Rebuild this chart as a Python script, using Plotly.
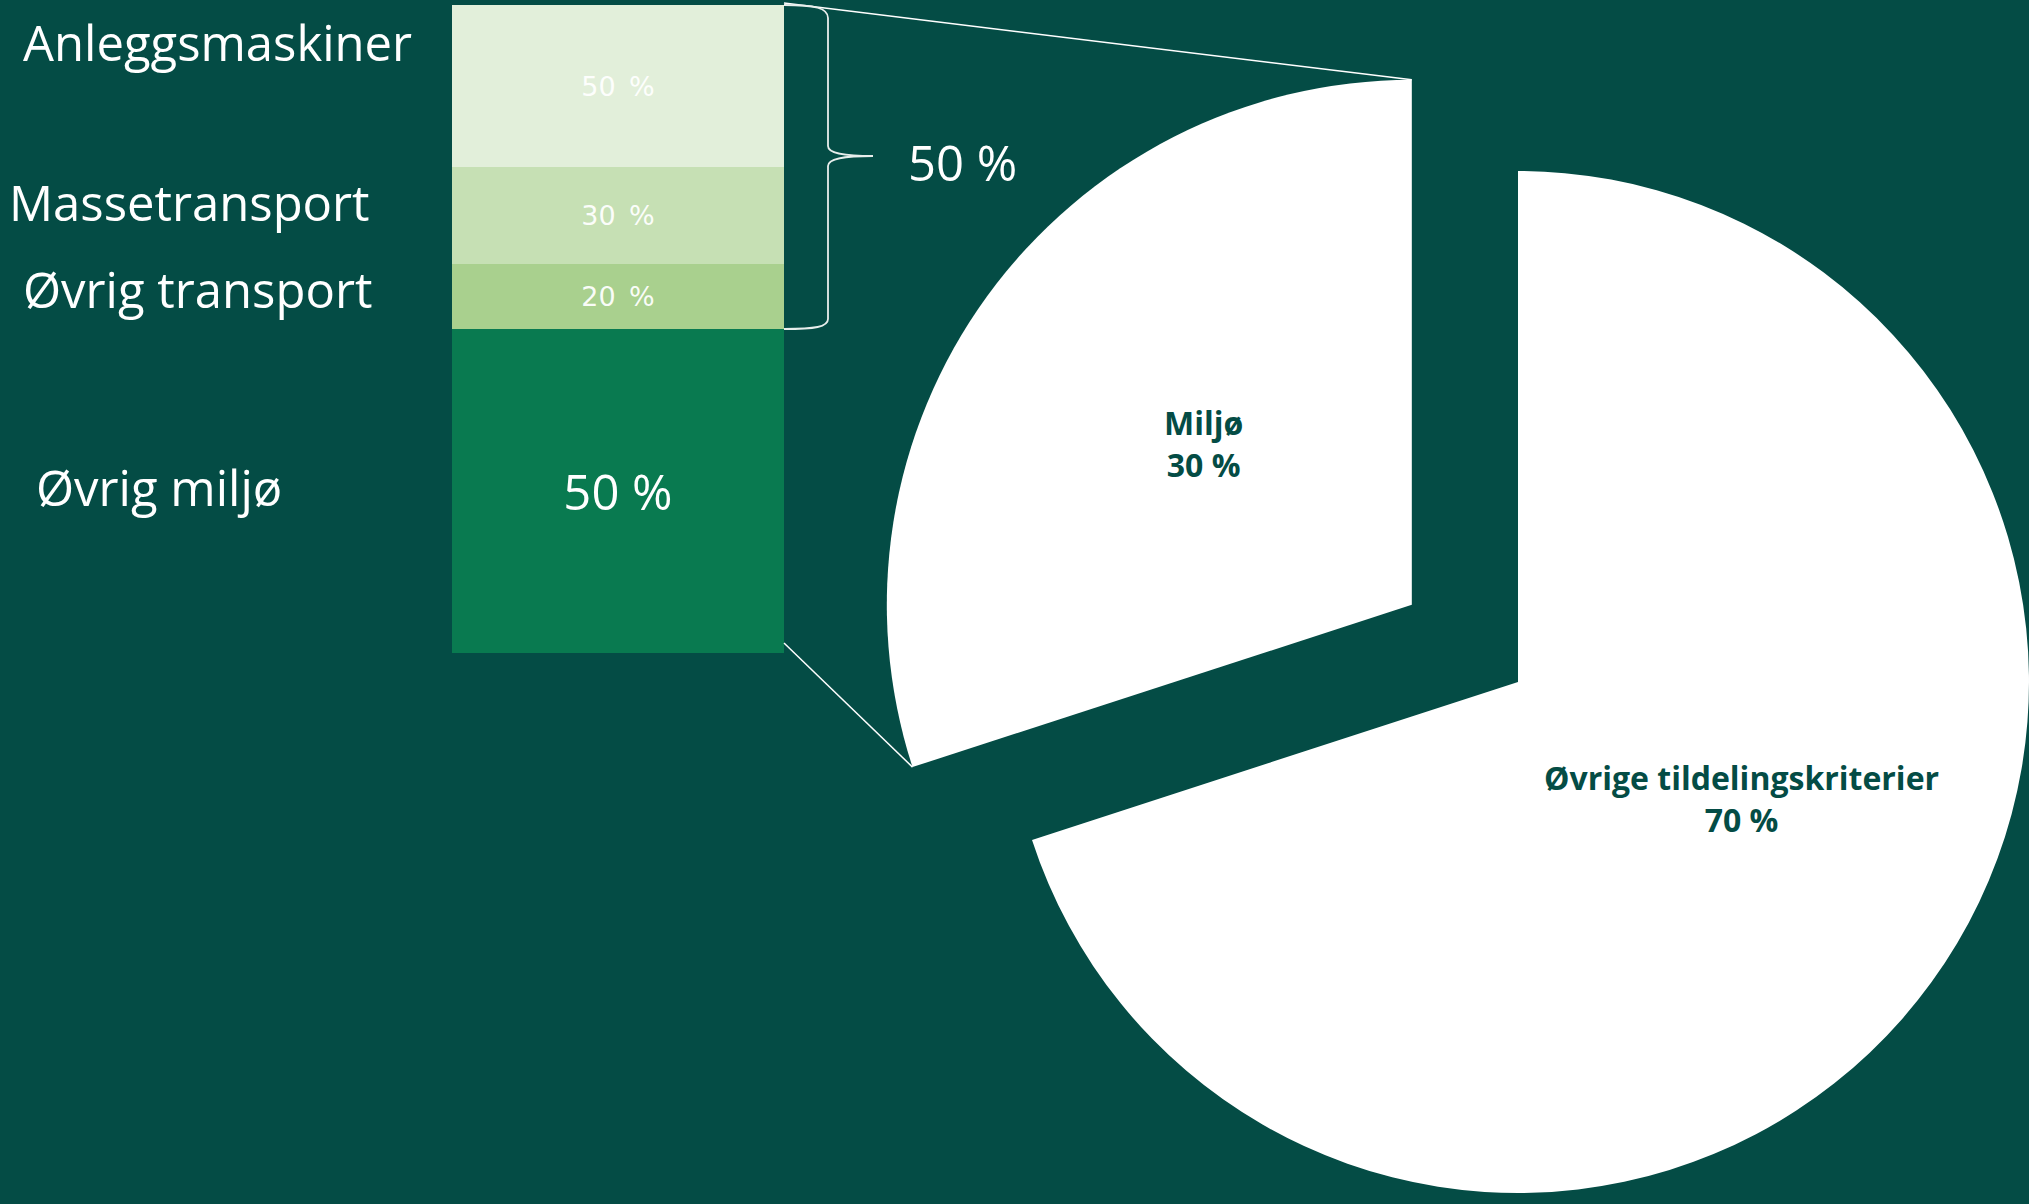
import math
import plotly.graph_objects as go

# ---------------- data ----------------
transport_sub_labels = ["Anleggsmaskiner", "Massetransport", "Øvrig transport"]
transport_sub_shares = [50, 30, 20]          # % of the transport part
env_split_labels = ["Transport", "Øvrig miljø"]
env_split_shares = [50, 50]                  # % of Miljø
pie_labels = ["Miljø", "Øvrige tildelingskriterier"]
pie_values = [30, 70]                        # % of total

# ---------------- styling / layout constants ----------------
W, H = 2029, 1204
BG = "#044C45"
FONT = "Open Sans"
sub_colors = ["#E2EFDA", "#C6E0B4", "#A9D08E"]
env_color = "#097A50"

def px2x(p):
    return p / W

def py2y(p):
    return 1 - p / H

# bar area (pixels)
bar_l, bar_r, bar_t, bar_b = 452, 784, 5, 653

fig = go.Figure()

# stacked bar: bottom = Øvrig miljø, then transport sub-parts (bottom to top)
transport_total = env_split_shares[0]
fig.add_trace(go.Bar(
    x=[0], y=[env_split_shares[1]], width=[1],
    marker=dict(color=env_color, line=dict(width=0)),
    text=[f"{env_split_shares[1]} %"], textposition="inside",
    insidetextanchor="middle", textangle=0,
    textfont=dict(family=FONT, size=49, color="white"),
    hoverinfo="skip", showlegend=False, name=env_split_labels[1],
))
for lab, share, col in reversed(list(zip(transport_sub_labels, transport_sub_shares, sub_colors))):
    fig.add_trace(go.Bar(
        x=[0], y=[share * transport_total / 100], width=[1],
        marker=dict(color=col, line=dict(width=0)),
        text=[f"{share}\u2002%"], textposition="inside",
        insidetextanchor="middle", textangle=0,
        textfont=dict(family="DejaVu Sans", size=27, color="rgba(255,255,255,0.95)"),
        hoverinfo="skip", showlegend=False, name=lab,
    ))

# pie geometry (Miljø slice sits just left of 12 o'clock)
cx, cy, R_main = 1518, 682, 511
R_m = 525
pull = 0.25
tot = sum(pie_values)
miljo_deg = 360.0 * pie_values[0] / tot
a_start = 90.0                       # math angle of 12 o'clock
a_end = 90.0 + miljo_deg
a_mid = (a_start + a_end) / 2
mx = cx + pull * R_m * math.cos(math.radians(a_mid))
my = cy - pull * R_m * math.sin(math.radians(a_mid))

pie_common = dict(labels=pie_labels, values=pie_values, sort=False,
                  direction="clockwise", rotation=-miljo_deg,
                  textinfo="none", hoverinfo="skip", showlegend=False)

# big slice (Øvrige) – Miljø slice transparent
fig.add_trace(go.Pie(
    marker=dict(colors=["rgba(0,0,0,0)", "white"], line=dict(width=0)),
    domain=dict(x=[px2x(cx - R_main), min(1.0, px2x(cx + R_main))],
                y=[py2y(cy + R_main), py2y(cy - R_main)]),
    **pie_common,
))
# pulled-out Miljø slice
fig.add_trace(go.Pie(
    marker=dict(colors=["white", "rgba(0,0,0,0)"], line=dict(width=0)),
    domain=dict(x=[px2x(mx - R_m), px2x(mx + R_m)],
                y=[py2y(my + R_m), py2y(my - R_m)]),
    **pie_common,
))

# connector lines from bar to pulled slice
top_corner = (mx + R_m * math.cos(math.radians(a_start)), my - R_m * math.sin(math.radians(a_start)))
out_corner = (mx + R_m * math.cos(math.radians(a_end)), my - R_m * math.sin(math.radians(a_end)))
shapes = [
    dict(type="line", xref="paper", yref="paper",
         x0=px2x(bar_r), y0=py2y(bar_t - 2), x1=px2x(top_corner[0]), y1=py2y(top_corner[1]),
         line=dict(color="white", width=1.5)),
    dict(type="line", xref="paper", yref="paper",
         x0=px2x(bar_r), y0=py2y(bar_b - 10), x1=px2x(out_corner[0]), y1=py2y(out_corner[1]),
         line=dict(color="white", width=1.5)),
]

# curly brace next to the transport part
bt = bar_t
bb = bar_t + (bar_b - bar_t) * transport_total / 100
tip_y = 156
pts = [
    ("M", [(bar_r, bt)]),
    ("C", [(815, bt), (828, bt + 3), (828, bt + 13)]),
    ("L", [(828, tip_y - 10)]),
    ("C", [(828, tip_y - 3), (842, tip_y), (873, tip_y)]),
    ("C", [(842, tip_y), (828, tip_y + 3), (828, tip_y + 10)]),
    ("L", [(828, bb - 10)]),
    ("C", [(828, bb - 2), (815, bb), (bar_r, bb)]),
]
path = " ".join(cmd + " " + " ".join(f"{px2x(x):.6f},{py2y(y):.6f}" for x, y in p) for cmd, p in pts)
shapes.append(dict(type="path", xref="paper", yref="paper", path=path,
                   line=dict(color="#E8EEEC", width=1.8)))

# annotations
annos = []
left_label_pos = {
    "Anleggsmaskiner": (21, 42),
    "Massetransport": (7, 202),
    "Øvrig transport": (21, 289),
    "Øvrig miljø": (34, 487),
}
for lab in transport_sub_labels + [env_split_labels[1]]:
    x, y = left_label_pos[lab]
    annos.append(dict(text=lab, x=px2x(x), y=py2y(y), xref="paper", yref="paper",
                      xanchor="left", yanchor="middle", showarrow=False,
                      font=dict(family=FONT, size=49, color="white")))
annos.append(dict(text=f"{transport_total} %", x=px2x(906), y=py2y(162), xref="paper", yref="paper",
                  xanchor="left", yanchor="middle", showarrow=False,
                  font=dict(family=FONT, size=49, color="white")))
pie_label_pos = [(1203, 443), (1741, 798)]
for lab, val, (x, y) in zip(pie_labels, pie_values, pie_label_pos):
    annos.append(dict(text=f"<b>{lab}</b><br><b>{val} %</b>", x=px2x(x), y=py2y(y),
                      xref="paper", yref="paper", xanchor="center", yanchor="middle",
                      showarrow=False, align="center",
                      font=dict(family=FONT, size=32, color=BG)))

fig.update_layout(
    width=W, height=H, autosize=False,
    margin=dict(l=0, r=0, t=0, b=0, pad=0),
    paper_bgcolor=BG, plot_bgcolor=BG,
    barmode="stack", bargap=0,
    xaxis=dict(domain=[px2x(bar_l), px2x(bar_r)], range=[-0.5, 0.5], visible=False, fixedrange=True),
    yaxis=dict(domain=[py2y(bar_b), py2y(bar_t)], range=[0, 100], visible=False, fixedrange=True),
    shapes=shapes, annotations=annos,
    showlegend=False,
)

fig.write_html("out.html", config={"displayModeBar": False})
